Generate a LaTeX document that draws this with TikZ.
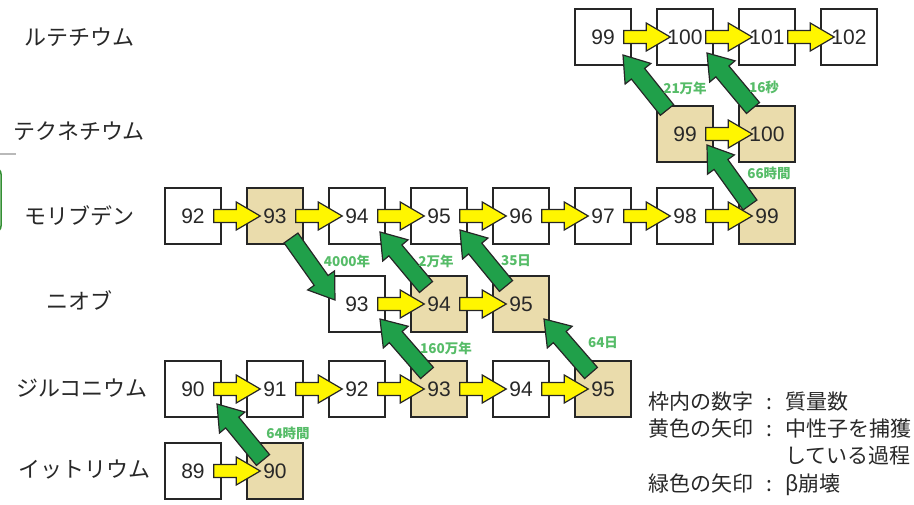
\documentclass[tikz,border=0pt]{standalone}
\usepackage{fontspec}
\setmainfont{Liberation Sans}
\newfontfamily\jpfont{Noto Sans CJK JP}
\usetikzlibrary{calc}

\definecolor{boxtan}{RGB}{234,220,172}
\definecolor{arrowyellow}{RGB}{255,246,0}
\definecolor{arrowgreen}{RGB}{32,160,74}
\definecolor{labelgreen}{RGB}{86,188,104}
\definecolor{textgray}{RGB}{40,40,40}

% block arrow: fill, from, to, half shaft, half head, head length
\newcommand{\blockarrow}[6]{%
  \coordinate (ba-m) at ($(#3)!#6!(#2)$);
  \filldraw[fill=#1, draw=black!85, line width=1.2pt, line join=miter]
    ($(#2)!#4!90:(#3)$) -- ($(ba-m)!#4!90:(#3)$) -- ($(ba-m)!#5!90:(#3)$) -- (#3)
    -- ($(ba-m)!#5!-90:(#3)$) -- ($(ba-m)!#4!-90:(#3)$) -- ($(#2)!#4!-90:(#3)$) -- cycle;}

% neutron capture
\newcommand{\yarrow}[2]{%
  \coordinate (ya-s) at ($(#1.east)+(-8,0)$);
  \coordinate (ya-e) at ($(#2.west)+(14,0)$);
  \blockarrow{arrowyellow}{ya-s}{ya-e}{6.5pt}{14pt}{24pt}}

% beta decay
\newcommand{\garrow}[4]{%
  \coordinate (ga-s) at ($(#1)+#3$);
  \coordinate (ga-e) at ($(#2)+#4$);
  \blockarrow{arrowgreen}{ga-s}{ga-e}{8.5pt}{16.5pt}{24pt}}

\begin{document}
\begin{tikzpicture}[x=1pt,y=-1pt]
  \useasboundingbox (0,0) rectangle (914,505);

  % bits of the slide edge
  \draw[gray!55, line width=2pt] (0,154) -- (16,154);
  \draw[green!45!black!80, line width=1.5pt, rounded corners=6pt] (-20,168) rectangle (1,232);

  % Elements
  \begin{scope}[every node/.style={font=\jpfont\fontsize{22}{22}\selectfont, text=textgray}]
    \node (lbl-ru) at (79,37) {ルテチウム};
    \node (lbl-tc) at (79,131) {テクネチウム};
    \node (lbl-mo) at (79,216) {モリブデン};
    \node (lbl-nb) at (79,300) {ニオブ};
    \node (lbl-zr) at (82,388) {ジルコニウム};
    \node (lbl-y) at (85,470) {イットリウム};
  \end{scope}

  % Nuclides
  \begin{scope}[every node/.style={draw=black!85, fill=white, line width=1.5pt, minimum size=56pt,
      inner sep=0pt, font=\fontsize{21}{21}\selectfont, text=textgray}]
    \node (ru99) at (603,37) {99};
    \node (ru100) at (685,37) {100};
    \node (ru101) at (767,37) {101};
    \node (ru102) at (849,37) {102};

    \node[fill=boxtan] (tc99) at (685,134) {99};
    \node[fill=boxtan] (tc100) at (767,134) {100};

    \node (mo92) at (193,216) {92};
    \node[fill=boxtan] (mo93) at (275,216) {93};
    \node (mo94) at (357,216) {94};
    \node (mo95) at (439,216) {95};
    \node (mo96) at (521,216) {96};
    \node (mo97) at (603,216) {97};
    \node (mo98) at (685,216) {98};
    \node[fill=boxtan] (mo99) at (767,216) {99};

    \node (nb93) at (357,304) {93};
    \node[fill=boxtan] (nb94) at (439,304) {94};
    \node[fill=boxtan] (nb95) at (521,304) {95};

    \node (zr90) at (193,389) {90};
    \node (zr91) at (275,389) {91};
    \node (zr92) at (357,389) {92};
    \node[fill=boxtan] (zr93) at (439,389) {93};
    \node (zr94) at (521,389) {94};
    \node[fill=boxtan] (zr95) at (603,389) {95};

    \node (y89) at (193,471) {89};
    \node[fill=boxtan] (y90) at (275,471) {90};
  \end{scope}

  % Beta decay
  \garrow{y90}{zr90}{(-12,-11)}{(24,15)}
  \garrow{zr93}{nb93}{(-12,-16)}{(23,15)}
  \garrow{zr95}{nb95}{(-12,-16)}{(23,15)}
  \garrow{mo93}{nb93}{(16,22)}{(-22,-4)}
  \garrow{nb94}{mo94}{(-13,-17)}{(23,16)}
  \garrow{nb95}{mo95}{(-15,-18)}{(21,14)}
  \garrow{mo99}{tc99}{(-17,-11)}{(22,11)}
  \garrow{tc99}{ru99}{(-18,-24)}{(20,18)}
  \garrow{tc100}{ru100}{(-14,-26)}{(22,16)}

  % Neutron capture
  \yarrow{ru99}{ru100}
  \yarrow{ru100}{ru101}
  \yarrow{ru101}{ru102}
  \yarrow{tc99}{tc100}
  \yarrow{mo92}{mo93}
  \yarrow{mo93}{mo94}
  \yarrow{mo94}{mo95}
  \yarrow{mo95}{mo96}
  \yarrow{mo96}{mo97}
  \yarrow{mo97}{mo98}
  \yarrow{mo98}{mo99}
  \yarrow{nb93}{nb94}
  \yarrow{nb94}{nb95}
  \yarrow{zr90}{zr91}
  \yarrow{zr91}{zr92}
  \yarrow{zr92}{zr93}
  \yarrow{zr93}{zr94}
  \yarrow{zr94}{zr95}
  \yarrow{y89}{y90}

  % Half-lives
  \begin{scope}[every node/.style={font=\jpfont\bfseries\fontsize{13.5}{13.5}\selectfont, text=labelgreen, inner sep=0pt}]
    \node (hl-y90) at (288,433) {64時間};
    \node (hl-zr93) at (446,348) {160万年};
    \node (hl-zr95) at (603,343) {64日};
    \node (hl-mo93) at (347,261) {4000年};
    \node (hl-nb94) at (436,261) {2万年};
    \node (hl-nb95) at (516,261) {35日};
    \node (hl-mo99) at (769,173) {66時間};
    \node (hl-tc99) at (685,88) {21万年};
    \node (hl-tc100) at (764,87) {16秒};
  \end{scope}

  % Legend
  \node[anchor=north west, inner sep=0pt, text=textgray, font=\jpfont\fontsize{21}{27.3}\selectfont] (legend) at (648,390)
    {\begin{tabular}{@{}l@{\hspace{13pt}:\hspace{13pt}}l@{}}
      枠内の数字 & 質量数\\
      黄色の矢印 & 中性子を捕獲\\
      \multicolumn{1}{@{}l@{\hspace{31pt}}}{} & している過程\\
      緑色の矢印 & β崩壊
    \end{tabular}};
\end{tikzpicture}
\end{document}
